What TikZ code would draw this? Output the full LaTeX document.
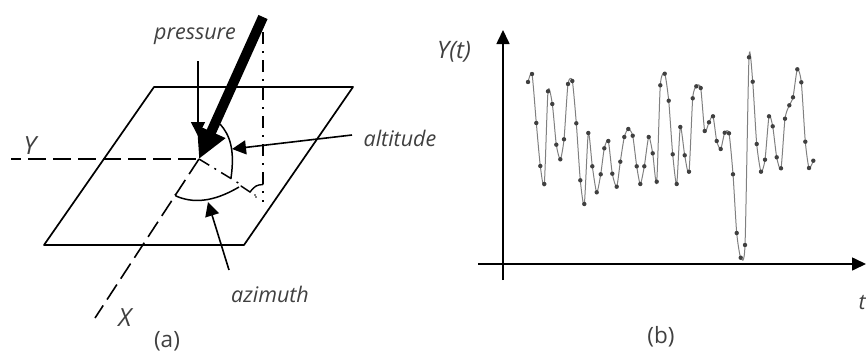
\documentclass[tikz,border=0pt]{standalone}
\usepackage{fontspec}
\setmainfont{Open Sans}
\usetikzlibrary{arrows.meta}
\tikzset{
  px/.style={x=1pt,y=-1pt},
  lab/.style={font=\fontsize{21.5}{24}\selectfont\itshape,text=black!75,inner sep=0pt},
  biglab/.style={font=\fontsize{25}{28}\selectfont\itshape,text=black!75,inner sep=0pt},
  captext/.style={font=\fontsize{22.5}{26}\selectfont,text=black!75,inner sep=0pt},
  plane/.style={line width=1.7pt,line join=round,black},
  dashline/.style={line width=1.6pt,dash pattern=on 18pt off 7pt},
  dashdot/.style={line width=1.7pt,dash pattern=on 12pt off 7pt on 2pt off 7pt},
  pointer/.style={line width=1.6pt,-{Triangle[length=14pt,width=14pt]}},
  axis/.style={line width=1.6pt,-{Triangle[length=14pt,width=13pt]}},
  trace/.style={line width=1pt,black!50},
  dotmark/.style={circle,fill=black!75,inner sep=0pt,minimum size=4.4pt}
}
\begin{document}
\begin{tikzpicture}[px]
\useasboundingbox (0,0) rectangle (866,351);
% plane
\coordinate (pa) at (154,87); \coordinate (pb) at (353,87);
\coordinate (pc) at (244,245); \coordinate (pd) at (44,245);
\draw[plane] (pa) -- (pb) -- (pc) -- (pd) -- cycle;
% axes of the plane
\coordinate (o) at (199,159);
\coordinate (yend) at (11,159);
\coordinate (xend) at (95,318);
\draw[dashline,dash phase=8pt] (yend) -- (o);
\draw[dashline] (o) -- (xend);
% vertical projection
\coordinate (vtop) at (263,32);
\coordinate (vbot) at (263,202);
\draw[dashdot] (vtop) -- (vbot);
\coordinate (pj) at (240,184);
\draw[line width=1.5pt,dash pattern=on 12pt off 6pt on 2pt off 6pt] (o) -- (pj);
% right-angle mark
\coordinate (r1) at (241,186); \coordinate (r2) at (250,192);
\draw[line width=1.4pt,line cap=round] (r1) -- (r2) .. controls (255,186) and (256,185) .. (263,184.5);
\fill (255,195) circle (0.8pt) (256,197) circle (0.8pt);
% arcs
\coordinate (a1) at (220,124); \coordinate (a2) at (231,178);
\draw[line width=1.5pt] (a1) .. controls (230,135) and (235,150) .. (a2);
\coordinate (z1) at (175,194); \coordinate (z2) at (239,187);
\draw[line width=1.5pt] (z1) -- (176,196) .. controls (192,203) and (212,203) .. (z2);
% pen
\coordinate (ptop) at (263,17);
\draw[line width=10pt,-{Triangle[length=30pt,width=29pt]}] (ptop) -- (o);
% labels
\node[lab] (pressure) at (195,36) {pressure};
\node[lab] (altitude) at (400,138) {altitude};
\node[lab] (azimuth) at (270,294) {azimuth};
\node[biglab] (ylab) at (30,146) {Y};
\node[biglab] (xlab) at (125,318) {X};
\node[captext] (capa) at (167,341) {(a)};
\node[captext] (capb) at (661,337) {(b)};
\node[lab,font=\fontsize{24}{26}\selectfont\itshape] (ytlab) at (454,52) {Y(t)};
\node[lab,anchor=east] (tlab) at (866,303) {t};
% pointers
\coordinate (pp) at (198,61); \coordinate (pq) at (198,136);
\draw[pointer] (pp) -- (pq);
\coordinate (ap) at (352,135); \coordinate (aq) at (232,149);
\draw[pointer] (ap) -- (aq);
\coordinate (zp) at (229,270); \coordinate (zq) at (208,202);
\draw[pointer] (zp) -- (zq);
% chart axes
\coordinate (ax0) at (503,280); \coordinate (ax1) at (503,30);
\coordinate (bx0) at (478,264); \coordinate (bx1) at (866,264);
\draw[axis] (ax0) -- (ax1);
\draw[axis] (bx0) -- (bx1);
% trace
\def\pts{(528,82)(532,74)(536.3,123)(540.3,166)(544.3,184)(548,91.3)(552.3,104)(556.3,144.7)(560.3,159.3)(564,139.3)(568,84)(572.3,81)(576.3,123.3)(580.3,180.3)(584.3,204)(588.3,133)(592.3,166.3)(596.7,192.3)(600.7,174.3)(604.3,148.3)(608.3,141)(612.3,173.7)(616.7,186.7)(620.3,161.7)(624.3,137)(628.3,129)(632.7,135.7)(636.7,166.3)(640.3,184)(644.3,166.3)(648.7,137)(652.7,153.3)(656.7,181.7)(660.3,85.3)(664.7,73.7)(668.7,100.7)(672.7,154.3)(676.7,184)(680.3,127)(684.7,155.3)(689,171.7)(692.7,98.3)(696.3,86.3)(700.7,88)(704.7,131)(709,122.3)(713,116.3)(716.7,141)(720.7,149)(724.7,132.7)(729,133.3)(733,174.3)(736.7,233)(740.7,257.7)(745,245)(749,57.3)(752.7,81.7)(756.7,144)(761,171.7)(765,159.7)(769,116.3)(772.7,126.3)(776.7,157.3)(781,168.3)(785,118.7)(789.3,105.3)(793,97.3)(797.3,69.3)(801.3,82.3)(805.3,141.7)(809,168)(813.3,160.7)}
\draw[trace] plot[smooth,tension=0.4] coordinates {\pts};
\foreach \c in {(528,82),(532,74),(536.3,123),(540.3,166),(544.3,184),(548,91.3),(552.3,104),(556.3,144.7),(560.3,159.3),(564,139.3),(568,84),(572.3,81),(576.3,123.3),(580.3,180.3),(584.3,204),(588.3,133),(592.3,166.3),(596.7,192.3),(600.7,174.3),(604.3,148.3),(608.3,141),(612.3,173.7),(616.7,186.7),(620.3,161.7),(624.3,137),(628.3,129),(632.7,135.7),(636.7,166.3),(640.3,184),(644.3,166.3),(648.7,137),(652.7,153.3),(656.7,181.7),(660.3,85.3),(664.7,73.7),(668.7,100.7),(672.7,154.3),(676.7,184),(680.3,127),(684.7,155.3),(689,171.7),(692.7,98.3),(696.3,86.3),(700.7,88),(704.7,131),(709,122.3),(713,116.3),(716.7,141),(720.7,149),(724.7,132.7),(729,133.3),(733,174.3),(736.7,233),(740.7,257.7),(745,245),(749,57.3),(752.7,81.7),(756.7,144),(761,171.7),(765,159.7),(769,116.3),(772.7,126.3),(776.7,157.3),(781,168.3),(785,118.7),(789.3,105.3),(793,97.3),(797.3,69.3),(801.3,82.3),(805.3,141.7),(809,168),(813.3,160.7)}
  \node[dotmark] at \c {};
\end{tikzpicture}
\end{document}
